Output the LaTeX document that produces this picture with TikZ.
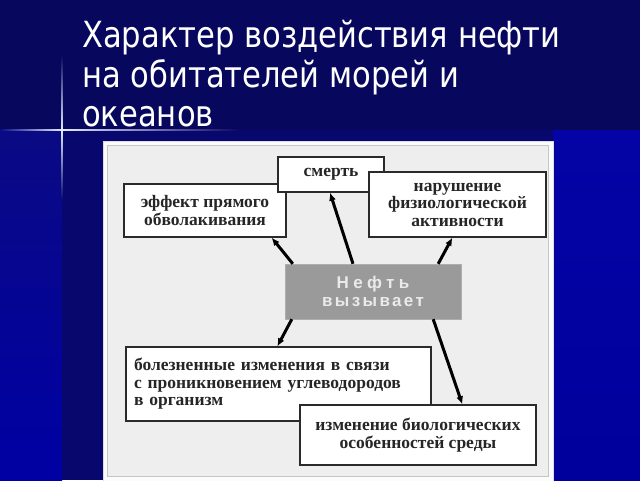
\documentclass[tikz,border=0pt]{standalone}
\usepackage{fontspec}
\setmainfont{Liberation Serif}
\newfontfamily\titlefont[FakeStretch=0.85]{DejaVu Sans}
\newfontfamily\oilfontA[LetterSpace=26]{Liberation Sans}
\newfontfamily\oilfontB[LetterSpace=14]{Liberation Sans}
\usetikzlibrary{arrows.meta}
\definecolor{navytop}{HTML}{07075E}
\definecolor{navyband}{HTML}{07076E}
\definecolor{leftA}{HTML}{0A0A84}
\definecolor{leftB}{HTML}{0000A4}
\definecolor{rightA}{HTML}{0404A6}
\definecolor{rightB}{HTML}{00009C}
\definecolor{glow}{HTML}{E4ECFF}
\definecolor{panelfill}{HTML}{EEEEEE}
\definecolor{panelline}{HTML}{C6C6C6}
\definecolor{boxline}{HTML}{2A2A2A}
\definecolor{oilgray}{HTML}{9A9A9A}
\definecolor{oiltext}{HTML}{EAEAEA}
\tikzset{
  box/.style={draw=boxline, line width=1.3pt, fill=white, inner sep=0pt,
    align=center, text=black!85, font=\bfseries\fontsize{17.5}{17.5}\selectfont},
  oilbox/.style={draw=oilgray!80!white, fill=oilgray, inner sep=0pt, align=center,
    text=oiltext, font=\bfseries\fontsize{17}{17.5}\selectfont},
  titletext/.style={text=white, anchor=base west, inner sep=0pt,
    font=\titlefont\fontsize{36}{40}\selectfont},
  arr/.style={line width=3pt, -{Latex[length=8pt,width=7pt]}, black}
}
\begin{document}
\begin{tikzpicture}[x=1pt,y=-1pt]
\useasboundingbox (0,0) rectangle (640,480);
% background
\fill[navytop] (0,0) rectangle (640,130);
\shade[top color=leftA, bottom color=leftB] (0,130) rectangle (62,480);
\fill[navyband] (62,130) rectangle (103,480);
\fill[navyband] (62,130) rectangle (553,141);
\shade[top color=rightA, bottom color=rightB] (553,130) rectangle (640,480);
% glow cross
\shade[left color=leftA, right color=glow] (0,129.2) rectangle (62,130.8);
\shade[left color=glow, right color=navytop] (62,129.2) rectangle (240,130.8);
\shade[top color=navytop, bottom color=glow] (61.2,55) rectangle (62.8,130);
\shade[top color=glow, bottom color=navyband] (61.2,130) rectangle (62.8,200);
% title
\node[titletext] (t1) at (82,47) {Характер воздействия нефти};
\node[titletext] (t2) at (82,87) {на обитателей морей и};
\node[titletext] (t3) at (82,126) {океанов};
% panel
\filldraw[fill=white!97!gray, draw=panelline!60!white, line width=0.8pt] (103,141) rectangle (553,482);
\filldraw[fill=panelfill, draw=panelline, line width=1.5pt] (107.5,145.5) rectangle (548.5,476.5);
% boxes
\node[box, minimum width=162pt, minimum height=53pt] (e) at (205,210.5) {эффект прямого\\обволакивания};
\node[box, minimum width=106pt, minimum height=35pt] (s) at (331,174.5) {смерть};
\node[box, minimum width=177pt, minimum height=65pt] (n) at (457.5,204.5) {нарушение\\физиологической\\активности};
\node[oilbox, minimum width=176pt, minimum height=55pt] (c) at (373,291.5) {{\oilfontA Нефть}\\{\oilfontB вызывает}};
\node[box, minimum width=305pt, minimum height=74pt, align=left, text width=289pt] (b) at (278.5,384) {болезненные изменения в связи\\с проникновением углеводородов\\в организм\\[5pt]};
\node[box, minimum width=236pt, minimum height=60pt] (i) at (418,435) {изменение биологических\\особенностей среды};
% arrows
\draw[arr] ([xshift=8pt]c.north west) -- ([xshift=-15pt]e.south east);
\draw[arr] ([xshift=-20pt]c.north) -- ([xshift=-1pt]s.south);
\draw[arr] ([xshift=-23pt]c.north east) -- ([xshift=84pt]n.south west);
\draw[arr] ([xshift=7pt]c.south west) -- ([xshift=152pt]b.north west);
\draw[arr] ([xshift=-28pt]c.south east) -- ([xshift=163pt]i.north west);
\end{tikzpicture}
\end{document}
